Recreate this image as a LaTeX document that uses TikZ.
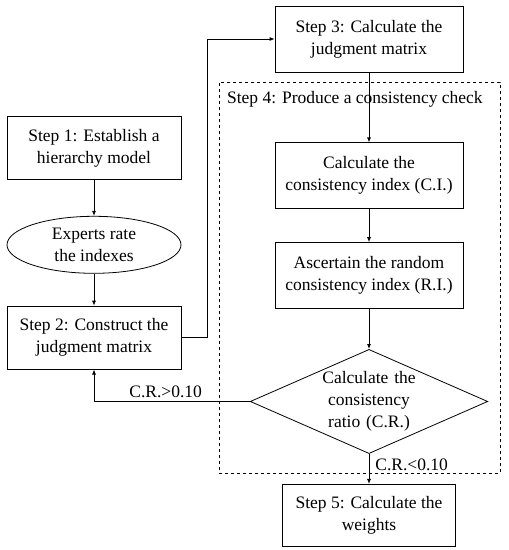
\documentclass[tikz,border=0pt]{standalone}
\usepackage{fontspec}
\setmainfont{Liberation Serif}
\usetikzlibrary{positioning, shapes.geometric, arrows.meta}

\begin{document}
\begin{tikzpicture}[x=1pt, y=1pt, node distance=30pt, line width=0.8pt,
    >={Latex[length=5pt,width=4pt]},
    every node/.style={font=\fontsize{17.5}{22}\selectfont},
    stepbox/.style={draw, rectangle, align=center, inner sep=0pt, minimum width=174pt, minimum height=63pt},
    widebox/.style={stepbox, minimum width=188pt, minimum height=66pt},
    ratebox/.style={draw, ellipse, align=center, inner sep=0pt, minimum width=174pt, minimum height=57pt},
    checkbox/.style={draw, diamond, align=center, inner sep=0pt, aspect=2.28, text width=101pt, minimum width=237pt, minimum height=104pt},
    groupbox/.style={draw, dashed, line width=0.6pt, rectangle, minimum width=281pt, minimum height=391pt}]
    \useasboundingbox (0,0) rectangle (509,-550);

    % Left column
    \node (step1) [stepbox] at (94,-148) {Step 1: Establish a\\hierarchy model};
    \node (rate) [ratebox, below=36pt of step1] {Experts rate\\the indexes};
    \node (step2) [stepbox, below=32pt of rate] {Step 2: Construct the\\judgment matrix};

    % Right column
    \node (step3) [widebox] at (369,-39) {Step 3: Calculate the\\judgment matrix};
    \node (ci) [widebox, below=70pt of step3] {Calculate the\\consistency index (C.I.)};
    \node (ri) [widebox, below=33pt of ci] {Ascertain the random\\consistency index (R.I.)};
    \node (cr) [checkbox, below=40pt of ri] {Calculate the\\consistency\\ratio (C.R.)};
    \node (step5) [stepbox, minimum width=173pt, minimum height=62pt, below=30pt of cr] {Step 5: Calculate the\\weights};

    % Dashed frame of step 4
    \node (step4) [groupbox] at (359.5,-277.5) {};
    \node (step4label) [anchor=west, inner sep=0pt] at ([shift={(8pt,-18pt)}]step4.north west) {Step 4: Produce a consistency check};

    % Arrows
    \draw[->] (step1) -- (rate);
    \draw[->] (rate) -- (step2);
    \draw[->] (step2.east) -- ++(26pt,0) |- (step3.west);
    \draw[->] (step3) -- (ci);
    \draw[->] (ci) -- (ri);
    \draw[->] (ri) -- (cr);
    \draw[->] (cr.west) -| (step2.south) node[pos=0.27, above, inner sep=3pt] {C.R.>0.10};
    \draw[->] (cr.south) -- (step5.north) node[pos=0.35, right, inner sep=6pt] {C.R.<0.10};

\end{tikzpicture}
\end{document}
